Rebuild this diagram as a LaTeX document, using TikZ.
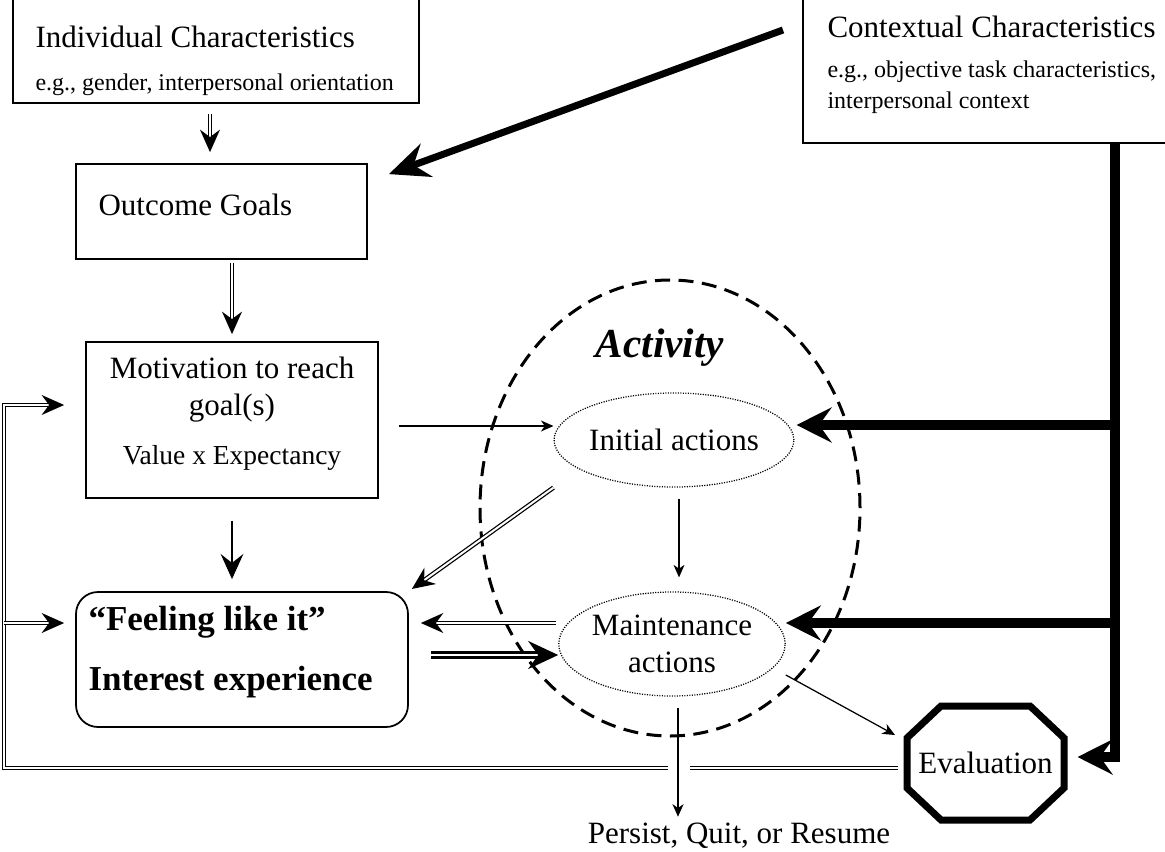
\documentclass[tikz,border=0pt]{standalone}
\usepackage{fontspec}
\setmainfont{Liberation Serif}
\usetikzlibrary{arrows.meta, calc, shapes.geometric}

\begin{document}
\begin{tikzpicture}[x=0.4pt, y=-0.4pt,
    box/.style={draw, line width=0.7pt, inner sep=0pt},
    txt/.style={inner sep=0pt, font=\fontsize{12.4}{14.8}\selectfont},
    smalltxt/.style={inner sep=0pt, align=left, font=\fontsize{9.6}{12.4}\selectfont},
    bigtxt/.style={inner sep=0pt, font=\fontsize{14}{17}\selectfont\bfseries},
    dotell/.style={ellipse, draw, line width=0.5pt, dash pattern=on 0.45pt off 0.55pt, inner sep=0pt, align=center, font=\fontsize{12.4}{14.8}\selectfont},
    thinarr/.style={line width=0.5pt, -{Stealth[length=5pt, width=4.4pt, inset=1.5pt]}},
    medarr/.style={line width=1.1pt, -{Stealth[length=10pt, width=9pt, inset=3.5pt]}},
    dblarr/.style={double, double distance=0.8pt, line width=0.5pt, -{Stealth[length=9pt, width=8pt, inset=3pt]}},
    fatdbl/.style={double, double distance=0.5pt, line width=1.2pt, -{Stealth[length=12pt, width=11.2pt, inset=4pt]}},
    heavyarr/.style={line width=4pt, -{Stealth[length=14pt, width=14pt, inset=5pt]}},
]
    \useasboundingbox (0,0) rectangle (1165,852);
    \clip (0,0) rectangle (1165,852);

    % boxes
    \node[box, minimum width=162.4pt, minimum height=53.2pt] (indiv) at (216,36.5) {};
    \node[txt, anchor=west] (indivtitle) at (35,37) {Individual Characteristics};
    \node[smalltxt, anchor=west] (indivsub) at (35,85) {e.g., gender, interpersonal orientation};

    \node[box, minimum width=158.8pt, minimum height=69.2pt] (context) at (1001.5,56.5) {};
    \node[txt, anchor=west] (contexttitle) at (827,27) {Contextual Characteristics};
    \node[smalltxt, anchor=west] (contextsub) at (827,87.5) {e.g., objective task characteristics,\\interpersonal context};

    \node[box, minimum width=116.4pt, minimum height=38pt] (outcome) at (221.5,211.5) {};
    \node[txt, anchor=west] (outcometxt) at (98,205) {Outcome Goals};

    \node[box, minimum width=116.8pt, minimum height=62.4pt] (motiv) at (232,420) {};
    \node[txt, align=center] (motivtxt) at (232,390) {Motivation to reach\\goal(s)};
    \node[inner sep=0pt, font=\fontsize{11}{13}\selectfont] (motivsub) at (232,458) {Value x Expectancy};

    \node[box, rounded corners=8.8pt, minimum width=132.8pt, minimum height=54pt] (feeling) at (242,659.5) {};
    \node[bigtxt, anchor=west] (feelingtop) at (88,622) {``Feeling like it''};
    \node[bigtxt, anchor=west] (feelingbot) at (88,682) {Interest experience};

    % activity
    \node[ellipse, draw, line width=1.2pt, dash pattern=on 6pt off 3.4pt, minimum width=152pt, minimum height=182.4pt] (activity) at (670,508) {};
    \node[inner sep=0pt, font=\fontsize{16.5}{20}\selectfont\bfseries\itshape] (activitytxt) at (660,348) {Activity};
    \node[dotell, minimum width=95.2pt, minimum height=37.6pt] (initial) at (674,440) {Initial actions};
    \node[dotell, minimum width=87.6pt, minimum height=41.6pt] (maint) at (672,644) {Maintenance\\actions};

    % evaluation
    \node[txt, minimum width=62.4pt, minimum height=45.2pt] (eval) at (985.5,763) {Evaluation};
    \draw[line width=2.8pt] ([xshift=13.6pt]eval.north west) -- ([xshift=-13.6pt]eval.north east)
        -- ([yshift=-12.8pt]eval.north east) -- ([yshift=12.8pt]eval.south east)
        -- ([xshift=-13.6pt]eval.south east) -- ([xshift=13.6pt]eval.south west)
        -- ([yshift=12.8pt]eval.south west) -- ([yshift=-12.8pt]eval.north west) -- cycle;

    \node[txt] (persist) at (739,836) {Persist, Quit, or Resume};

    % context arrows
    \coordinate (ctxstart) at (783,30);
    \coordinate (bustop) at (1115,143);
    \coordinate (fbleft) at (4,0);
    \draw[line width=2.8pt, -{Stealth[length=16pt, width=14pt, inset=5.5pt]}] (ctxstart) -- ($(outcome.north east)+(21,11)$);
    \draw[heavyarr, shorten >=5.4pt] (bustop) |- ([yshift=2.4pt]eval.east);
    \draw[heavyarr, shorten >=0.8pt] ([yshift=6pt]initial.east -| bustop) -- ([yshift=6pt]initial.east);
    \draw[heavyarr] ([yshift=8.4pt]maint.east -| bustop) -- ([yshift=8.4pt]maint.east);

    % main chain
    \draw[dblarr, shorten <=4pt, shorten >=4.4pt] ([xshift=-2.4pt]indiv.south) -- ([xshift=-2.4pt]indiv.south |- outcome.north);
    \draw[dblarr, shorten <=1.2pt, shorten >=2.8pt] (outcome.south -| motiv.north) -- (motiv.north);
    \draw[medarr, shorten <=8.8pt, shorten >=4.8pt] (motiv.south) -- (motiv.south |- feeling.north);
    \draw[thinarr, shorten <=8pt] ([yshift=-2.4pt]motiv.east) -- ([yshift=-2.4pt]motiv.east -| initial.west);
    \draw[dblarr, shorten >=1.5pt] (initial.west |- initial.south) -- (feeling.north east);
    \draw[thinarr, shorten <=4.4pt, shorten >=5.6pt] ([xshift=2pt]initial.south) -- ([xshift=2pt]initial.south |- maint.north);
    \draw[dblarr, shorten <=1pt, shorten >=4.8pt] ([yshift=14.6pt]feeling.east -| maint.west) -- ([yshift=14.6pt]feeling.east);
    \draw[fatdbl, shorten <=8.8pt] ([yshift=1.8pt]feeling.east) -- ([yshift=1.8pt]feeling.east -| maint.west);
    \draw[thinarr] ([yshift=-12.4pt]maint.east) -- ([xshift=-4.8pt, yshift=11.2pt]eval.west);

    % feedback
    \draw[dblarr, shorten <=3.6pt, shorten >=8.4pt] ([yshift=-2pt]eval.west) -| ([yshift=6pt]motiv.west -| fbleft) -- ([yshift=6pt]motiv.west);
    \draw[dblarr, shorten >=4.4pt] ([yshift=14.6pt]feeling.west -| fbleft) -- ([yshift=14.6pt]feeling.west);
    \fill[white] (668,762) rectangle (690,774);
    \draw[thinarr, shorten <=4.4pt, shorten >=2.4pt] ([xshift=2.4pt]maint.south) -- ([xshift=2.4pt]maint.south |- persist.north);
\end{tikzpicture}
\end{document}
